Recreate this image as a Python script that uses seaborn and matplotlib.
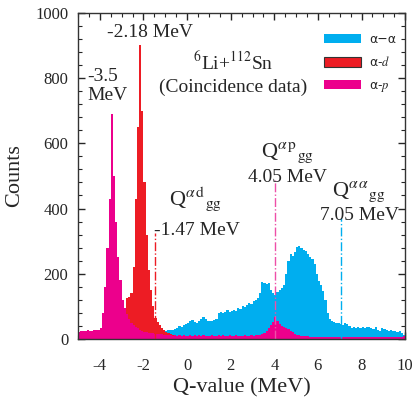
import numpy as np
import pandas as pd
import matplotlib
matplotlib.use("Agg")
import matplotlib.pyplot as plt
from matplotlib.patches import Patch
from matplotlib.ticker import MultipleLocator
import seaborn as sns

# histogram bins: 0.1 MeV wide, from -5 to 10 MeV
bin_edges = np.round(np.arange(-5.0, 10.01, 0.1), 2)
bin_centers = bin_edges[:-1] + 0.05

# alpha-alpha coincidences (cyan)
counts_aa = [
    0, 0, 0, 0, 0, 0, 0, 0, 0, 0,
    0, 0, 0, 0, 0, 0, 0, 0, 0, 0,
    0, 0, 0, 0, 0, 0, 0, 0, 0, 0,
    0, 0, 0, 0, 0, 5, 10, 15, 20, 22,
    25, 27, 26, 28, 30, 35, 40, 38, 42, 45,
    50, 55, 58, 52, 50, 55, 62, 68, 60, 55,
    55, 55, 58, 62, 80, 84, 78, 82, 88, 84,
    86, 90, 85, 95, 92, 100, 98, 105, 110, 108,
    115, 118, 125, 140, 175, 172, 168, 170, 150, 140,
    135, 145, 150, 155, 165, 200, 240, 262, 255, 268,
    282, 285, 278, 272, 270, 260, 252, 245, 230, 200,
    178, 165, 148, 120, 80, 62, 55, 52, 48, 50,
    45, 44, 48, 46, 40, 34, 36, 35, 38, 34,
    36, 32, 38, 36, 33, 30, 36, 26, 24, 34,
    30, 26, 24, 28, 23, 25, 22, 24, 18, 12,
]

# alpha-d coincidences (red)
counts_ad = [
    0, 0, 0, 0, 0, 0, 0, 0, 0, 0,
    0, 0, 0, 0, 0, 0, 0, 0, 0, 0,
    30, 80, 125, 130, 140, 220, 430, 650, 900, 700,
    480, 320, 210, 150, 100, 65, 52, 42, 34, 28,
    22, 18, 15, 12, 10, 8, 6, 5, 4, 3,
    3, 3, 2, 2, 2, 1, 1, 1, 1, 1,
    0, 0, 0, 0, 0, 0, 0, 0, 0, 0,
    0, 0, 0, 0, 0, 0, 0, 0, 0, 0,
    0, 0, 0, 0, 0, 0, 0, 0, 0, 0,
    0, 0, 0, 0, 0, 0, 0, 0, 0, 0,
    0, 0, 0, 0, 0, 0, 0, 0, 0, 0,
    0, 0, 0, 0, 0, 0, 0, 0, 0, 0,
    0, 0, 0, 0, 0, 0, 0, 0, 0, 0,
    0, 0, 0, 0, 0, 0, 0, 0, 0, 0,
    0, 0, 0, 0, 0, 0, 0, 0, 0, 0,
]

# alpha-p coincidences (magenta)
counts_ap = [
    22, 25, 24, 23, 26, 24, 25, 27, 26, 28,
    32, 80, 160, 280, 430, 690, 500, 360, 250, 180,
    120, 95, 75, 60, 50, 42, 36, 32, 28, 25,
    22, 20, 19, 18, 17, 16, 15, 15, 14, 13,
    12, 11, 12, 10, 11, 10, 12, 10, 11, 10,
    10, 11, 10, 12, 9, 11, 10, 12, 10, 9,
    10, 11, 9, 10, 12, 10, 11, 9, 10, 11,
    10, 9, 11, 10, 9, 10, 11, 9, 10, 12,
    10, 11, 11, 12, 14, 18, 25, 32, 42, 52,
    66, 56, 46, 40, 36, 33, 30, 25, 20, 16,
    13, 11, 10, 9, 8, 8, 7, 7, 6, 6,
    7, 6, 6, 5, 6, 5, 6, 5, 6, 5,
    5, 6, 5, 5, 6, 5, 5, 6, 5, 5,
    6, 5, 5, 6, 5, 5, 6, 5, 5, 6,
    5, 5, 6, 5, 5, 6, 5, 5, 6, 8,
]

# ground-state Q values and the height of their marker lines
q_gg = [-1.47, 4.05, 7.05]
q_gg_tops = [325, 488, 371]

c_aa = "#00AEEF"
c_ad = "#ED1C24"
c_ap = "#EC008C"
c_ap_line = "#EE4FA8"

sns.set_style("ticks")
plt.rcParams["font.family"] = ["Liberation Serif", "DejaVu Serif"]
plt.rcParams["mathtext.fontset"] = "stix"
plt.rcParams["axes.unicode_minus"] = False

fig = plt.figure(figsize=(4.13, 4.03), dpi=100)
ax = fig.add_axes([0.189, 0.159, 0.792, 0.809])

for counts, col in [(counts_aa, c_aa), (counts_ad, c_ad), (counts_ap, c_ap)]:
    df = pd.DataFrame({"q": bin_centers, "n": counts})
    sns.histplot(data=df, x="q", weights="n", bins=list(bin_edges), element="step",
                 fill=True, color=col, alpha=1, linewidth=0, ax=ax)

for q, top, col in zip(q_gg, q_gg_tops, [c_ad, c_ap_line, c_aa]):
    ax.plot([q, q], [0, top], color=col, linestyle="-.", linewidth=1)

ax.set_xlim(-5, 10)
ax.set_ylim(0, 1000)
ax.xaxis.set_major_locator(MultipleLocator(2))
ax.xaxis.set_minor_locator(MultipleLocator(0.5))
ax.yaxis.set_major_locator(MultipleLocator(200))
ax.yaxis.set_minor_locator(MultipleLocator(40))
ax.tick_params(which="both", direction="in", top=True, right=True, labelsize=12)
ax.tick_params(which="major", length=5, width=1)
ax.tick_params(which="minor", length=3, width=0.8)
ax.tick_params(axis="x", which="major", pad=14)
ax.tick_params(axis="y", which="major", pad=7)
for sp in ax.spines.values():
    sp.set_linewidth(1)
    sp.set_color("#333333")

ax.set_xlabel("Q-value (MeV)", fontsize=16, labelpad=3)
ax.set_ylabel("Counts", fontsize=16, labelpad=8)

txt = dict(fontsize=14, ha="center", va="center")
ax.text(-1.69, 939, "-2.18 MeV", **txt)
ax.text(-4.59, 776, "-3.5\nMeV", fontsize=14, ha="left", va="center", linespacing=1.15)
ax.text(2.13, 847, r"$^{6}$Li+$^{112}$Sn", **txt)
ax.text(2.13, 773, "(Coincidence data)", **txt)

# ground-state Q labels
qtxt = dict(fontsize=16, ha="center", va="center")
ax.text(0.38, 430, r"Q$^{\alpha\,\mathrm{d}}{}_{\mathrm{gg}}$", **qtxt)
ax.text(0.43, 334, "-1.47 MeV", **txt)
ax.text(4.62, 572, r"Q$^{\alpha\,\mathrm{p}}{}_{\mathrm{gg}}$", **qtxt)
ax.text(4.62, 494, "4.05 MeV", **txt)
ax.text(7.89, 450, r"Q$^{\alpha\,\alpha}{}_{\mathrm{gg}}$", **qtxt)
ax.text(7.89, 380, "7.05 MeV", **txt)

handles = [
    Patch(facecolor=c_aa, edgecolor="none"),
    Patch(facecolor=c_ad, edgecolor="#333333", linewidth=0.8),
    Patch(facecolor=c_ap, edgecolor="none"),
]
labels = ["α−α", r"α-$d$", r"α-$p$"]
leg = ax.legend(handles, labels, loc="upper right", frameon=False,
                prop={"family": "DejaVu Sans", "size": 9}, handlelength=2.9,
                handleheight=0.8, labelspacing=0.75, handletextpad=0.7,
                borderaxespad=0.3, bbox_to_anchor=(1.0, 0.965))

fig.savefig("out.png", dpi=100)
